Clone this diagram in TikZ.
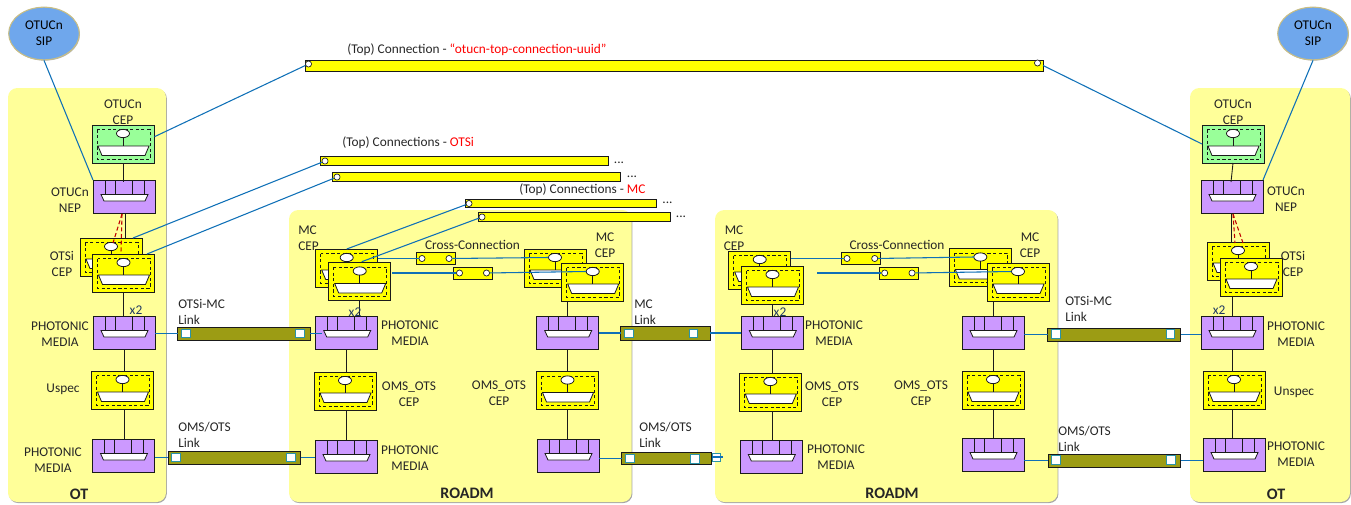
\documentclass[tikz,border=0pt]{standalone}
\usepackage{fontspec}
\setmainfont{Carlito}
\usetikzlibrary{shadows}
\definecolor{panel}{HTML}{FFFF99}
\definecolor{cyel}{HTML}{FFFF00}
\definecolor{cpur}{HTML}{CC99FF}
\definecolor{cgrn}{HTML}{99FF99}
\definecolor{csip}{HTML}{6FA7EC}
\definecolor{csipb}{HTML}{C9BE84}
\definecolor{cblue}{HTML}{0F70B7}
\definecolor{colive}{HTML}{9C9C14}
\definecolor{cteal}{HTML}{2A93A8}
\definecolor{cx}{HTML}{1F3864}
\definecolor{cdark}{HTML}{1A1A1A}
\tikzset{
 panelbox/.style={fill=panel,draw=none,rounded corners=7pt,anchor=north west,inner sep=0,outer sep=0,
   drop shadow={shadow xshift=.6pt,shadow yshift=-.8pt,opacity=.35,fill=black}},
 box/.style={draw=cdark,line width=.7pt,anchor=north west,inner sep=0,outer sep=0},
 cepbox/.style={box,minimum width=46.5pt,minimum height=28.5pt},
 nepbox/.style={box,fill=cpur,minimum width=46.5pt,minimum height=25pt},
 port/.style={draw=cdark,fill=white,line width=.6pt,ellipse,inner sep=0,minimum width=9.8pt,minimum height=6.2pt,outer sep=0},
 trap/.style={draw=cdark,fill=white,line width=.6pt},
 inner/.style={draw=cdark,line width=.6pt},
 idash/.style={draw=cdark,line width=.5pt,dash pattern=on 2.4pt off 1.8pt},
 wire/.style={draw=cdark,line width=.65pt},
 bl/.style={draw=cblue,line width=.8pt},
 rd/.style={draw=red!75!black,line width=.8pt,dash pattern=on 3pt off 2pt},
 lbl/.style={align=center,font=\fontsize{10}{12}\selectfont,text=black!85,inner sep=0,yshift=-.6pt},
 lbll/.style={lbl,align=left,anchor=west},
 boldl/.style={lbl,font=\fontsize{12}{14}\selectfont\bfseries},
 bar/.style={draw=cdark,fill=cyel,line width=.55pt,anchor=north west,inner sep=0,outer sep=0},
 lnk/.style={draw=cdark,fill=colive,line width=.7pt,anchor=north west,inner sep=0,outer sep=0},
 hole/.style={draw=cdark,fill=white,line width=.5pt,circle,inner sep=0,minimum size=4.6pt},
 sq/.style={draw=cteal,fill=white,line width=.7pt,inner sep=0,minimum size=6.2pt},
 sip/.style={ellipse,fill=csip,draw=csipb,line width=.8pt,minimum width=53pt,minimum height=39.5pt,inner sep=0,align=center,font=\fontsize{10}{12}\selectfont,
   drop shadow={shadow xshift=.5pt,shadow yshift=-.6pt,opacity=.3,fill=black}},
}
\usetikzlibrary{shapes.geometric}
\newcommand{\cepN}[4]{%
 \node[cepbox,fill=#4] (#1) at (#2,#3) {};
 \begin{scope}[shift={(#2,#3)}]
  \draw[idash] (5,4.5) rectangle (58,34);
  \node[port] (#1p) at (31,8.5) {};
  \draw[inner] (#1p) -- (31,21);
  \draw[trap] (6,21) -- (57,21) -- (53,30.5) -- (10,30.5) -- cycle;
 \end{scope}}
\newcommand{\nepN}[3]{%
 \node[nepbox] (#1) at (#2,#3) {};
 \begin{scope}[shift={(#2,#3)}]
  \foreach \q in {12,22,39,51} \draw[inner] (\q,0) -- (\q,14.5);
  \draw[trap] (8,14.5) -- (55,14.5) -- (52,21) -- (11,21) -- cycle;
 \end{scope}}
\newcommand{\lnkN}[5]{%
 \node[lnk,minimum width=#4,minimum height=#5] (#1) at (#2,#3) {};}
\begin{document}
\begin{tikzpicture}[x=.75pt,y=-.75pt]
\useasboundingbox (0,0) rectangle (1351,504);
% panels
\node[panelbox,minimum width=118.5pt,minimum height=310.5pt] (otl) at (8,88) {};
\node[panelbox,minimum width=120pt,minimum height=310.5pt] (otr) at (1190,88) {};
\node[panelbox,minimum width=257pt,minimum height=219pt] (rd1) at (289,210) {};
\node[panelbox,minimum width=257pt,minimum height=219pt] (rd2) at (715,210) {};
% SIP
\node[sip] (sipl) at (44,33.5) {OTUCn\\SIP};
\node[sip] (sipr) at (1313,33.5) {OTUCn\\SIP};
% top bars
\node[bar,minimum width=553.5pt,minimum height=8.2pt] (topc) at (305,60) {};
\node[bar,minimum width=216pt,minimum height=6.5pt] (os1) at (320,156.5) {};
\node[bar,minimum width=216pt,minimum height=6.8pt] (os2) at (332,172) {};
\node[bar,minimum width=143.5pt,minimum height=6.3pt] (mc1) at (465.5,199) {};
\node[bar,minimum width=144pt,minimum height=6.8pt] (mc2) at (478.5,212) {};
\node[hole] (topcA) at (308.5,64) {};
\node[hole] (topcB) at (1037.5,63) {};
\node[hole] (os1h) at (325,161) {};
\node[hole] (os2h) at (337,177) {};
\node[hole] (mc1h) at (469,203.5) {};
\node[hole] (mc2h) at (482,217) {};
% black wires beneath boxes
\coordinate (aa) at (125,213); \coordinate (ab) at (125,238);
\draw[wire] (aa) -- (ab);
\coordinate (ra) at (1231,213); \coordinate (rb) at (1231,242);
\draw[wire] (ra) -- (rb);
% left OT
\cepN{otucnL}{92}{125}{cgrn}
\nepN{nepOL}{93}{180}
\cepN{otsiLb}{80}{238}{cyel}
\cepN{otsiLf}{92.5}{254}{cyel}
\nepN{phLu}{93}{316}
\cepN{uspecL}{91.5}{371}{cyel}
\nepN{phLl}{92.5}{439}
% right OT
\cepN{otucnR}{1202}{125}{cgrn}
\nepN{nepOR}{1201}{180}
\cepN{otsiRb}{1207}{242}{cyel}
\cepN{otsiRf}{1220}{258}{cyel}
\nepN{phRu}{1201}{316}
\cepN{uspecR}{1203}{371}{cyel}
\nepN{phRl}{1203}{438}
% ROADM 1
\cepN{m1Lb}{315.7}{249}{cyel}
\cepN{m1Lf}{328.7}{262.5}{cyel}
\cepN{m1Rb}{524}{249}{cyel}
\cepN{m1Rf}{561.7}{263}{cyel}
\nepN{n1Lu}{315.7}{316}
\nepN{n1Ru}{536.7}{316}
\cepN{o1L}{314}{372}{cyel}
\cepN{o1R}{536.5}{371.5}{cyel}
\nepN{n1Ll}{315}{440}
\nepN{n1Rl}{537}{439}
% ROADM 2
\cepN{m2Lb}{728.7}{251}{cyel}
\cepN{m2Lf}{741.5}{266}{cyel}
\cepN{m2Rb}{949.3}{248.5}{cyel}
\cepN{m2Rf}{987}{263}{cyel}
\nepN{n2Lu}{741.3}{316}
\nepN{n2Ru}{962}{316}
\cepN{o2L}{739.3}{373}{cyel}
\cepN{o2R}{962}{371}{cyel}
\nepN{n2Ll}{740.3}{440}
\nepN{n2Rl}{962}{438}
% vertical wires
\draw[wire] (otucnL.south) -- ++(0,19);
\draw[wire] (otsiLf.south) -- (phLu.north -| otsiLf.south);
\draw[wire] (phLu.south) -- (phLu.south |- uspecL.north);
\draw[wire] (phLu.south |- uspecL.south) -- (phLu.south |- phLl.north);
\draw[wire] (otucnR.south) -- ++(-2,19);
\draw[wire] (phRu.north) ++(0,0) -- (phRu.north |- otsiRf.south);
\draw[wire] (phRu.south) -- (phRu.south |- uspecR.north);
\draw[wire] (phRu.south |- uspecR.south) -- (phRu.south |- phRl.north);
\draw[wire] (m1Lf.south) -- (m1Lf.south |- n1Lu.north);
\draw[wire] (n1Lu.south) -- (n1Lu.south |- o1L.north);
\draw[wire] (n1Lu.south |- o1L.south) -- (n1Lu.south |- n1Ll.north);
\draw[wire] (n1Ru.north) -- (n1Ru.north |- m1Rf.south);
\draw[wire] (n1Ru.south) -- (n1Ru.south |- o1R.north);
\draw[wire] (n1Ru.south |- o1R.south) -- (n1Ru.south |- n1Rl.north);
\draw[wire] (m2Lf.south) -- (m2Lf.south |- n2Lu.north);
\draw[wire] (n2Lu.south) -- (n2Lu.south |- o2L.north);
\draw[wire] (n2Lu.south |- o2L.south) -- (n2Lu.south |- n2Ll.north);
\draw[wire] (n2Ru.north) -- (n2Ru.north |- m2Rf.south);
\draw[wire] (n2Ru.south) -- (n2Ru.south |- o2R.north);
\draw[wire] (n2Ru.south |- o2R.south) -- (n2Ru.south |- n2Rl.north);
% red dashed
\coordinate (rl0) at (122,214); \coordinate (rl1) at (113,243); \coordinate (rl2) at (121,252);
\draw[rd] (rl0) -- (rl1); \draw[rd] (rl0) -- (rl2);
\coordinate (rr0) at (1233,214); \coordinate (rr1) at (1243,243); \coordinate (rr2) at (1235,243);
\draw[rd] (rr0) -- (rr1); \draw[rd] (rr0) -- (rr2);
% link bars
\lnkN{lA}{177.5}{327}{99.7pt}{10pt}
\lnkN{lB}{168}{451}{99.7pt}{10pt}
\lnkN{lC}{620.7}{326}{67pt}{10.5pt}
\lnkN{lD}{621.5}{452.5}{67.8pt}{8.7pt}
\lnkN{lE}{1047.5}{328}{100pt}{10pt}
\lnkN{lF}{1048}{454}{99.7pt}{10pt}
\node[sq] (qA1) at (186,333.5) {}; \node[sq] (qA2) at (300,333.5) {};
\node[sq] (qB1) at (176,457.5) {}; \node[sq] (qB2) at (291,457.5) {};
\node[sq] (qC1) at (629,333.5) {}; \node[sq] (qC2) at (693.5,333.5) {};
\node[sq] (qD1) at (630,458.5) {}; \node[sq] (qD2) at (695,459) {};
\node[sq,minimum size=6pt] (qD3) at (716.5,457) {};
\node[sq] (qE1) at (1056,334) {}; \node[sq] (qE2) at (1170.5,334) {};
\node[sq] (qF1) at (1056,460) {}; \node[sq] (qF2) at (1171,460) {};
% link wires
\draw[bl] (phLu.east |- lA.west) -- (lA.west);
\draw[bl] (lA.east) -- +(12,0);
\draw[bl] (phLl.east |- lB.west) -- (lB.west);
\draw[bl] (lB.east) -- (n1Ll.west |- lB.east);
\draw[bl] (n1Ru.east |- lC.west) -- (lC.west);
\draw[bl] (lC.east) -- (n2Lu.west |- lC.east);
\draw[bl] (n1Rl.east |- lD.west) -- (lD.west);
\draw[bl] (qD3.west) -- (qD3.east) -- +(2,0);
\draw[bl] (n2Ru.east |- lE.west) -- (lE.west);
\draw[bl] (lE.east) -- (phRu.west |- lE.east);
\draw[bl] (n2Rl.east |- lF.west) -- (lF.west);
\draw[bl] (lF.east) -- (phRl.west |- lF.east);
% cross-connections
\node[bar,minimum width=29.6pt,minimum height=9pt] (x1a) at (416,252.5) {};
\node[bar,minimum width=29.3pt,minimum height=8.6pt] (x1b) at (453.5,267.5) {};
\node[bar,minimum width=29.6pt,minimum height=9pt] (x2a) at (841.3,252.5) {};
\node[bar,minimum width=29.3pt,minimum height=8.6pt] (x2b) at (879,267.5) {};
\node[hole] (x1a1) at (422,258.5) {}; \node[hole] (x1a2) at (449,258.5) {};
\node[hole] (x1b1) at (459.5,273) {}; \node[hole] (x1b2) at (486.5,273) {};
\node[hole] (x2a1) at (847,258.5) {}; \node[hole] (x2a2) at (874.7,258.5) {};
\node[hole] (x2b1) at (884.7,273) {}; \node[hole] (x2b2) at (912,273) {};
\draw[bl] (m1Lb.east |- x1a1) -- (x1a1);
\draw[bl] (x1a2) -- (m1Rbp.west);
\coordinate (m1s) at (392,273);
\draw[bl] (m1s) -- (x1b1);
\draw[bl] (x1b2) -- (m1Rfp.west);
\draw[bl] (m2Lb.east |- x2a1) -- (x2a1);
\draw[bl] (x2a2) -- (m2Rbp.west);
\coordinate (m2s) at (817,273);
\draw[bl] (m2s) -- (x2b1);
\draw[bl] (x2b2) -- (m2Rfp.west);
% long blue lines
\coordinate (tL) at (154.5,136.7);
\coordinate (tR) at (1202,144);
\draw[bl] (topcA) -- (tL);
\draw[bl] (topc.east) -- (tR);
\coordinate (oL1) at (133,238); \coordinate (oL2) at (147,254);
\draw[bl] (os1h) -- (oL1);
\draw[bl] (os2h) -- (oL2);
\coordinate (mL1) at (346.7,249); \coordinate (mL2) at (361.7,261.7);
\draw[bl] (mc1h) -- (mL1);
\draw[bl] (mc2h) -- (mL2);
\draw[bl] (sipl.south) -- (nepOL.north west);
\draw[bl] (sipr.south) -- (nepOR.north east);
% labels
\node[lbl] (t1) at (123,111.5) {OTUCn\\CEP};
\node[lbl] (t2) at (1233,111.5) {OTUCn\\CEP};
\node[lbl] (t3) at (70,199) {OTUCn\\NEP};
\node[lbl] (t4) at (1286,198.5) {OTUCn\\NEP};
\node[lbl] (t5) at (62,263) {OTSi\\CEP};
\node[lbl] (t6) at (1293,263) {OTSi\\CEP};
\node[lbl] (t7) at (60,333) {PHOTONIC\\MEDIA};
\node[lbl] (t8) at (53,459.5) {PHOTONIC\\MEDIA};
\node[lbl] (t9) at (63,388) {Uspec};
\node[lbl] (t10) at (1296,333) {PHOTONIC\\MEDIA};
\node[lbl] (t11) at (1294,391) {Unspec};
\node[lbl] (t12) at (1296,453) {PHOTONIC\\MEDIA};
\node[boldl] (t13) at (79,493) {OT};
\node[boldl] (t14) at (1276,493) {OT};
\node[boldl] (t15) at (467,492) {ROADM};
\node[boldl] (t16) at (892,492) {ROADM};
\node[lbll] (t17) at (178,311) {OTSi-MC\\Link};
\node[lbll] (t18) at (178,434) {OMS/OTS\\Link};
\node[lbll] (t19) at (634,311) {MC\\Link};
\node[lbll] (t20) at (639,434) {OMS/OTS\\Link};
\node[lbll] (t21) at (1065,308) {OTSi-MC\\Link};
\node[lbll] (t22) at (1058,438) {OMS/OTS\\Link};
\node[lbll] (t23) at (298,237) {MC\\CEP};
\node[lbl] (t24) at (605,244.5) {MC\\CEP};
\node[lbl] (t25) at (734,237) {MC\\CEP};
\node[lbl] (t26) at (1030,244.5) {MC\\CEP};
\node[lbl] (t27) at (472.5,244) {Cross-Connection};
\node[lbl] (t28) at (897,244) {Cross-Connection};
\node[lbl] (t29) at (410,332) {PHOTONIC\\MEDIA};
\node[lbl] (t30) at (409,393) {OMS\_OTS\\CEP};
\node[lbl] (t31) at (410,457) {PHOTONIC\\MEDIA};
\node[lbl] (t32) at (499,392.5) {OMS\_OTS\\CEP};
\node[lbl] (t33) at (834,332) {PHOTONIC\\MEDIA};
\node[lbl] (t34) at (832,393) {OMS\_OTS\\CEP};
\node[lbl] (t35) at (836,456) {PHOTONIC\\MEDIA};
\node[lbl] (t36) at (921,392) {OMS\_OTS\\CEP};
\node[lbl,text=cx] (t37) at (136,309) {x2};
\node[lbl,text=cx] (t38) at (355,311) {x2};
\node[lbl,text=cx] (t39) at (780,311) {x2};
\node[lbl,text=cx] (t40) at (1219,309) {x2};
\node[lbll] (t41) at (347,49) {(Top) Connection - \textcolor{red}{“otucn-top-connection-uuid”}};
\node[lbll] (t42) at (342,142) {(Top) Connections - \textcolor{red}{OTSi}};
\node[lbll] (t43) at (519,189) {(Top) Connections - \textcolor{red}{MC}};
\node[lbl] (d1) at (619,162.3) {...};
\node[lbl] (d2) at (632,176) {...};
\node[lbl] (d3) at (667.5,201.5) {...};
\node[lbl] (d4) at (681,215.5) {...};
\end{tikzpicture}
\end{document}
